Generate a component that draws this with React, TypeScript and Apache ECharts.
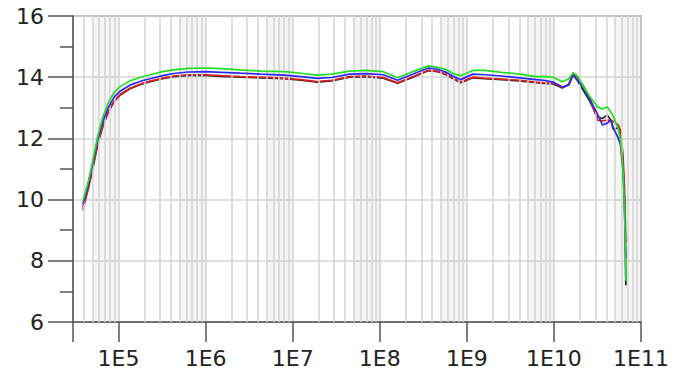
import React, { useEffect, useRef } from "react";
import * as echarts from "echarts";

// Frequency points (Hz)
const freq = [
  3.9e4, 4.5e4, 5.0e4, 5.75e4, 6.6e4, 7.6e4, 8.9e4, 1.05e5, 1.35e5, 1.8e5,
  2.3e5, 3.2e5, 4.3e5, 6.3e5, 1e6, 1.5e6, 2.5e6, 4.3e6, 8e6, 1.25e7,
  1.9e7, 2.8e7, 4.5e7, 7e7, 1.1e8, 1.6e8, 2.5e8, 3.6e8, 4.6e8, 5.8e8,
  7e8, 8.5e8, 1.17e9, 1.6e9, 2.5e9, 4e9, 6.3e9, 7.6e9, 9.8e9, 1.25e10,
  1.48e10, 1.66e10, 1.86e10, 2.2e10, 2.6e10, 3.16e10, 3.6e10, 4.1e10, 4.5e10, 4.8e10,
  5.5e10, 5.8e10, 6.2e10, 6.45e10, 6.6e10, 6.7e10,
];

const blackVals = [
  9.75, 10.4, 10.95, 11.8, 12.4, 12.85, 13.2, 13.42, 13.62, 13.76,
  13.85, 13.95, 14.02, 14.06, 14.06, 14.03, 14.0, 13.98, 13.95, 13.9,
  13.84, 13.88, 14.0, 14.02, 13.97, 13.8, 14.02, 14.21, 14.18, 14.08,
  13.95, 13.82, 13.98, 13.95, 13.92, 13.88, 13.82, 13.8, 13.78, 13.65,
  13.75, 14.1, 13.9, 13.55, 13.2, 12.7, 12.65, 12.76, 12.6, 12.3,
  12.35, 12.0, 11.2, 10.0, 8.5, 7.2,
];

const redVals = [
  9.65, 10.35, 10.95, 11.8, 12.42, 12.87, 13.22, 13.44, 13.64, 13.78,
  13.87, 13.97, 14.04, 14.08, 14.08, 14.05, 14.02, 14.0, 13.97, 13.92,
  13.86, 13.9, 14.02, 14.04, 13.99, 13.82, 14.04, 14.23, 14.2, 14.1,
  13.97, 13.84, 14.0, 13.97, 13.94, 13.9, 13.84, 13.82, 13.8, 13.66,
  13.77, 14.14, 13.95, 13.7, 13.3, 12.6, 12.57, 12.6, 12.6, 12.55,
  12.44, 12.27, 11.5, 10.5, 9.4, 8.6,
];

const blueVals = [
  9.85, 10.5, 11.1, 11.95, 12.55, 13.0, 13.35, 13.55, 13.74, 13.87,
  13.95, 14.05, 14.12, 14.17, 14.18, 14.16, 14.13, 14.1, 14.07, 14.02,
  13.96, 13.99, 14.1, 14.12, 14.08, 13.9, 14.12, 14.3, 14.26, 14.16,
  14.03, 13.92, 14.1, 14.08, 14.04, 13.98, 13.92, 13.9, 13.84, 13.68,
  13.75, 14.07, 13.9, 13.65, 13.25, 12.8, 12.44, 12.5, 12.6, 12.34,
  12.0, 11.8, 11.0, 10.0, 8.8, 8.1,
];

const greenVals = [
  9.95, 10.6, 11.2, 12.05, 12.7, 13.15, 13.5, 13.7, 13.88, 14.0,
  14.08, 14.18, 14.24, 14.29, 14.3, 14.28, 14.24, 14.2, 14.18, 14.13,
  14.07, 14.1, 14.2, 14.22, 14.18, 13.98, 14.2, 14.37, 14.32, 14.25,
  14.12, 14.05, 14.22, 14.22, 14.16, 14.1, 14.02, 14.03, 14.0, 13.85,
  13.95, 14.14, 14.05, 13.68, 13.35, 13.03, 12.96, 13.03, 12.86, 12.72,
  12.3, 11.95, 11.0, 9.8, 8.5, 7.35,
];

const xMin = 3e4;
const xMax = 1e11;
const yMin = 6;
const yMax = 16;
const yInterval = 2;
const decadeExponents = [4, 5, 6, 7, 8, 9, 10];
const minorMultipliers = [2, 3, 4, 5, 6, 7, 8, 9];

const gridLineColor = "#d6d6d6";

export default function App() {
  const ref = useRef<HTMLDivElement>(null);

  useEffect(() => {
    if (!ref.current) return;
    const chart = echarts.init(ref.current, null, { renderer: "svg" });

    const minorLines: any[] = [];
    const bands: any[] = [];
    decadeExponents.forEach((e) => {
      const base = Math.pow(10, e);
      minorMultipliers.forEach((m) => {
        const v = m * base;
        if (v > xMin && v < xMax) minorLines.push({ xAxis: v });
      });
      const b0 = Math.max(5 * base, xMin);
      const b1 = 10 * base;
      if (b0 < b1 && b1 <= xMax) bands.push([{ xAxis: b0 }, { xAxis: b1 }]);
    });

    const mk = (vals: number[]) => freq.map((f, i) => [f, vals[i]]);
    const lineSeries = (name: string, vals: number[], color: string, z: number) => ({
      name,
      type: "line",
      data: mk(vals),
      showSymbol: false,
      symbol: "none",
      z,
      lineStyle: { color, width: 1.7 },
      itemStyle: { color },
    });

    const fontFamily = "DejaVu Sans";

    chart.setOption({
      animation: false,
      backgroundColor: "#ffffff",
      grid: {
        left: 73,
        top: 16,
        right: 48,
        bottom: 55,
        show: true,
        borderColor: "#707070",
        borderWidth: 1.5,
        backgroundColor: "transparent",
      },
      xAxis: {
        type: "log",
        logBase: 10,
        min: xMin,
        max: xMax,
        axisLine: { show: true, lineStyle: { color: "#555", width: 1.5 } },
        axisTick: { show: true, length: 20, lineStyle: { color: "#555", width: 1.5 } },
        axisLabel: {
          show: true,
          margin: 25,
          color: "#222",
          fontSize: 22,
          fontFamily,
          showMinLabel: true,
          showMaxLabel: true,
          formatter: (v: number) => {
            const l = Math.log10(v);
            const r = Math.round(l);
            return Math.abs(l - r) < 1e-6 ? "1E" + r : "";
          },
        },
        splitLine: { show: true, lineStyle: { color: gridLineColor, width: 1.6 } },
      },
      yAxis: {
        type: "value",
        min: yMin,
        max: yMax,
        interval: yInterval,
        axisLine: { show: true, lineStyle: { color: "#555", width: 1.5 } },
        axisTick: { show: true, length: 25, lineStyle: { color: "#555", width: 1.5 } },
        minorTick: { show: true, splitNumber: 2, length: 13, lineStyle: { color: "#555", width: 1.5 } },
        axisLabel: {
          margin: 29,
          color: "#222",
          fontSize: 22,
          fontFamily,
        },
        splitLine: { show: true, lineStyle: { color: gridLineColor, width: 1.6 } },
      },
      series: [
        {
          name: "grid",
          type: "line",
          data: [],
          z: 1,
          silent: true,
          markArea: {
            silent: true,
            itemStyle: { color: "rgba(0,0,0,0.04)" },
            data: bands,
          },
          markLine: {
            silent: true,
            symbol: "none",
            label: { show: false },
            lineStyle: { color: gridLineColor, width: 1.6, type: "solid" },
            data: minorLines,
          },
        },
        lineSeries("black", blackVals, "#222222", 3),
        lineSeries("red", redVals, "#e02020", 4),
        lineSeries("blue", blueVals, "#2a2af0", 5),
        lineSeries("green", greenVals, "#22dd22", 6),
      ],
    });

    return () => chart.dispose();
  }, []);

  return (
    <div
      ref={ref}
      style={{ position: "fixed", left: 0, top: 0, width: 689, height: 377, background: "#fff" }}
    />
  );
}
